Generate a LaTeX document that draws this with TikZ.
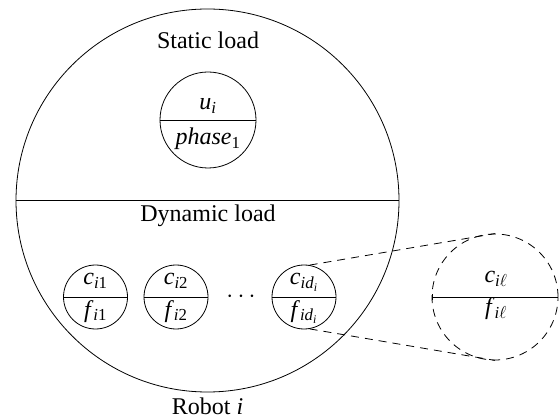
\documentclass[tikz,border=0pt]{standalone}
\usepackage{fontspec}
\setmainfont{Liberation Serif}
\usetikzlibrary{arrows.meta}
% italic symbol with a subscript, set in the text font
\newcommand{\sym}[2]{\textit{#1}\textsubscript{#2}}
\begin{document}
\begin{tikzpicture}[x=1pt,y=-1pt,
  ring/.style={circle, draw, line width=0.8pt, inner sep=0pt},
  zoomring/.style={circle, draw, line width=0.8pt, inner sep=0pt, dash pattern=on 8pt off 6pt},
  lbl/.style={font=\fontsize{24}{26}\selectfont, inner sep=0pt, anchor=base},
  divider/.style={line width=0.9pt},
  zoomline/.style={line width=0.8pt, dash pattern=on 8pt off 6pt}]
\useasboundingbox (0,0) rectangle (559,419);

% outer robot circle, split into static and dynamic halves
\node[ring, minimum size=383pt] (robot) at (207.5,200.5) {};
\draw[divider] (robot.west) -- (robot.east);
\node[lbl] (static) at (208,49) {Static load};
\node[lbl] (dynamic) at (208,222) {Dynamic load};
\node[lbl] (name) at (207.5,414) {Robot \textit{i}};

% static load element
\node[ring, minimum size=96pt] (ph) at (208,120) {};
\draw[divider] (ph.west) -- (ph.east);
\node[lbl] (u) at (208,110) {\sym{u}{\textit{i}}};
\node[lbl] (phase) at (208,145) {\sym{phase}{1}};

% dynamic load elements
\node[ring, minimum size=64pt] (c1) at (95.5,297) {};
\draw[divider] (c1.west) -- (c1.east);
\node[lbl] (c1t) at (95.5,285) {\sym{c}{\textit{i}1}};
\node[lbl] (c1b) at (95.5,317) {\sym{f}{\textit{i}1}};

\node[ring, minimum size=64pt] (c2) at (176,297) {};
\draw[divider] (c2.west) -- (c2.east);
\node[lbl] (c2t) at (176,285) {\sym{c}{\textit{i}2}};
\node[lbl] (c2b) at (176,317) {\sym{f}{\textit{i}2}};

\node[lbl] (dots) at (241,302.5) {$\cdots$};

\node[ring, minimum size=64pt] (cd) at (304,297) {};
\draw[divider] (cd.west) -- (cd.east);
\node[lbl] (cdt) at (304,285) {\sym{c}{\textit{id}\textsubscript{\textit{i}}}};
\node[lbl] (cdb) at (304,317) {\sym{f}{\textit{id}\textsubscript{\textit{i}}}};

% magnified generic element
\node[zoomring, minimum size=126pt] (zoom) at (495,297) {};
\draw[divider, {Bar[width=6pt]}-] (zoom.west) -- (zoom.east);
\node[lbl] (zt) at (496,283) {\sym{c}{\textit{i}$\ell$}};
\node[lbl] (zb) at (496,315) {\sym{f}{\textit{i}$\ell$}};

\draw[zoomline] (cd.80) -- (zoom.north);
\draw[zoomline] (cd.-80) -- (zoom.south);
\end{tikzpicture}
\end{document}
